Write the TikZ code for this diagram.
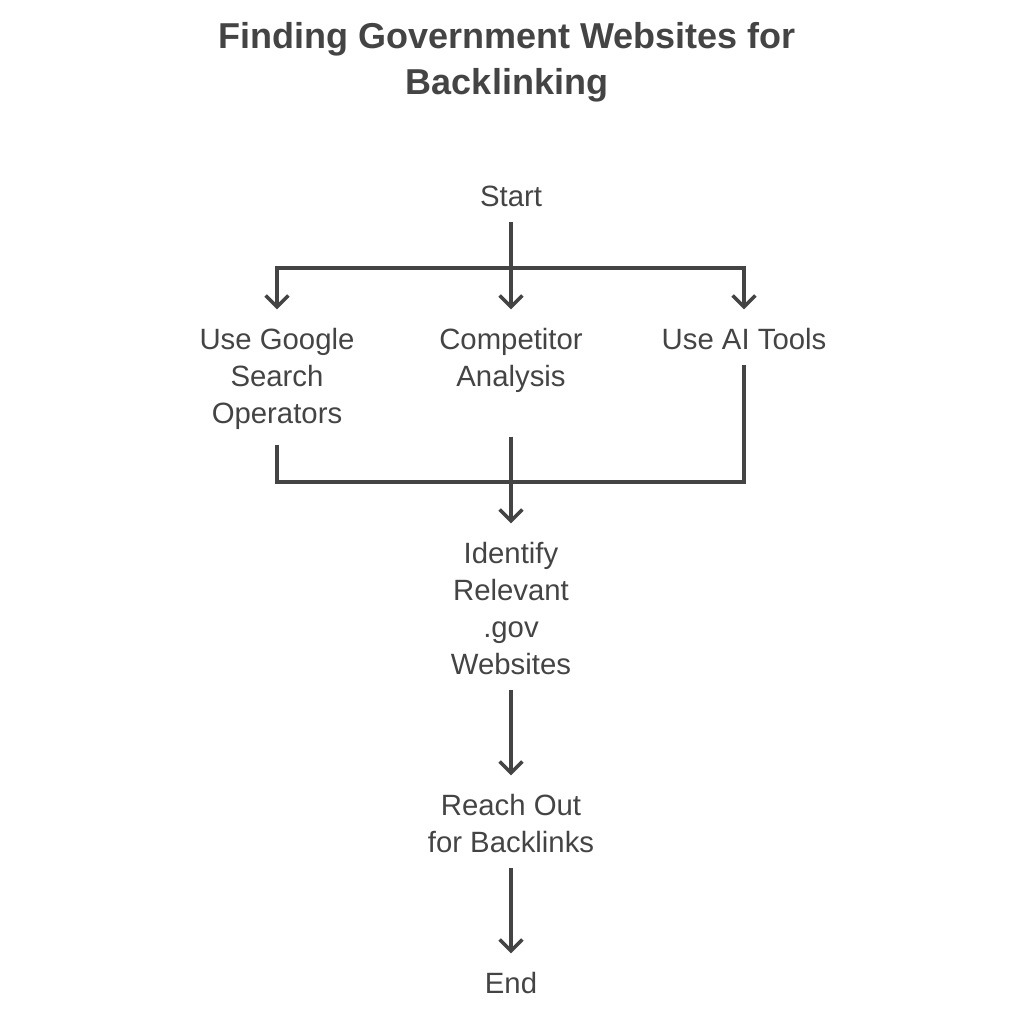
\documentclass[tikz,border=0pt]{standalone}
\usepackage{fontspec}
\setmainfont{Liberation Sans}
\usetikzlibrary{arrows.meta}
\definecolor{ink}{RGB}{68,68,68}

\begin{document}
\begin{tikzpicture}[x=0.75pt,y=0.75pt,yscale=-1,xscale=1,
	steptext/.style={anchor=north, inner sep=0pt, align=center, text=ink, font=\fontsize{22}{27.75}\selectfont},
	link/.style={draw=ink, line width=2.6pt},
	arr/.style={link, -{Straight Barb[length=8.5pt,width=17pt]}, shorten >=14pt},
	from/.style={shorten <=11pt}]
	\useasboundingbox (0,0) rectangle (1024,1024);
	\node (title) at (507,22) [anchor=north, inner sep=0pt, align=center, text=ink, font=\fontsize{27}{34.5}\selectfont\bfseries] {Finding Government Websites for\\Backlinking};
	\node (start) at (511,186) [steptext] {Start};
	\node (google) at (277,328) [steptext] {Use Google\\Search\\Operators};
	\node (compet) at (511,328) [steptext] {Competitor\\Analysis};
	\node (aitools) at (744,328) [steptext] {Use AI Tools};
	\node (identify) at (511,542) [steptext] {Identify\\Relevant\\.gov\\Websites};
	\node (reach) at (511,794) [steptext] {Reach Out\\for Backlinks};
	\node (finish) at (511,972) [steptext] {End};
	\coordinate (split) at (511,268);
	\coordinate (merge) at (511,482);
	\draw [arr, from] (start) -- (compet);
	\draw [arr] (split) -| (google);
	\draw [arr] (split) -| (aitools);
	\draw [link, from] (google) |- (merge);
	\draw [link, from] (aitools) |- (merge);
	\draw [arr, shorten <=5pt] (google.south -| compet) -- (identify);
	\draw [arr, from] (identify) -- (reach);
	\draw [arr, from] (reach) -- (finish);
\end{tikzpicture}
\end{document}
